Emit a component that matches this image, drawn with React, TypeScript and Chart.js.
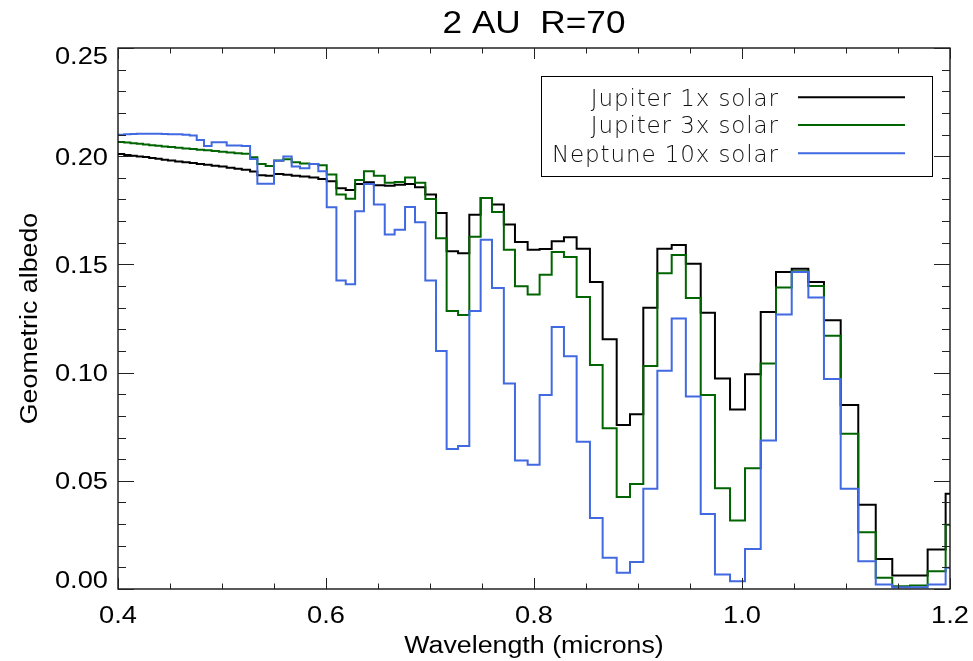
import React, { useEffect, useRef } from "react";
import { Chart, registerables } from "chart.js";

Chart.register(...registerables);

const chartTitle = "2 AU  R=70";
const xTitle = "Wavelength (microns)";
const yTitle = "Geometric albedo";
const seriesNames = ["Jupiter 1x solar", "Jupiter 3x solar", "Neptune 10x solar"];
const seriesColors = ["#000000", "#006400", "#4169E1"];

// left edges of the R=70 wavelength bins (microns), last entry closes the final bin
const binEdges = [
  0.4, 0.406, 0.412, 0.418, 0.424, 0.43, 0.436, 0.442, 0.448, 0.455,
  0.462, 0.469, 0.4757, 0.4827, 0.49, 0.497, 0.5045, 0.512, 0.519, 0.527,
  0.534, 0.542, 0.55, 0.559, 0.567, 0.575, 0.584, 0.5926, 0.6007, 0.61,
  0.619, 0.628, 0.6365, 0.646, 0.6565, 0.666, 0.676, 0.6856, 0.6955, 0.7058,
  0.716, 0.727, 0.7378, 0.7487, 0.7596, 0.771, 0.7817, 0.7939, 0.8054, 0.817,
  0.8288, 0.841, 0.8538, 0.866, 0.8795, 0.8923, 0.9051, 0.9186, 0.9324, 0.946,
  0.9603, 0.974, 0.9885, 1.0029, 1.018, 1.0327, 1.0478, 1.0638, 1.0788, 1.0949,
  1.1118, 1.1286, 1.1445, 1.1615, 1.1785, 1.1958, 1.2,
];

const jupiter1x = [
  0.201, 0.2006, 0.2002, 0.1999, 0.1996, 0.1992, 0.1988, 0.1984, 0.198, 0.1976,
  0.1972, 0.1968, 0.1964, 0.196, 0.1956, 0.1952, 0.1947, 0.1942, 0.1937, 0.1929,
  0.1912, 0.191, 0.1918, 0.1914, 0.191, 0.1906, 0.1902, 0.1895, 0.1884, 0.1852,
  0.1844, 0.1872, 0.188, 0.1866, 0.1864, 0.1868, 0.1872, 0.1856, 0.1823, 0.1737,
  0.1561, 0.1552, 0.173, 0.1807, 0.1777, 0.1684, 0.1603, 0.1568, 0.1571, 0.1607,
  0.1626, 0.1572, 0.1419, 0.1154, 0.0758, 0.0807, 0.13, 0.1572, 0.159, 0.1503,
  0.1277, 0.0973, 0.083, 0.0992, 0.128, 0.1465, 0.148, 0.1419, 0.1242, 0.085,
  0.0389, 0.0139, 0.0062, 0.0062, 0.0182, 0.044,
];

const jupiter3x = [
  0.2066, 0.2063, 0.206, 0.2057, 0.2054, 0.2051, 0.2048, 0.2045, 0.2042, 0.2039,
  0.2036, 0.2033, 0.203, 0.2027, 0.2024, 0.2021, 0.2017, 0.2014, 0.2011, 0.1995,
  0.1964, 0.1955, 0.198, 0.1986, 0.1972, 0.1966, 0.1964, 0.1958, 0.1916, 0.1823,
  0.1803, 0.189, 0.193, 0.191, 0.1877, 0.1881, 0.1902, 0.1877, 0.1802, 0.1621,
  0.1285, 0.1266, 0.1628, 0.1807, 0.1742, 0.1568, 0.1399, 0.1361, 0.1452, 0.1557,
  0.1534, 0.1349, 0.1035, 0.0743, 0.0425, 0.0485, 0.1031, 0.1459, 0.1544, 0.1345,
  0.0896, 0.0466, 0.0317, 0.0558, 0.1042, 0.1393, 0.1468, 0.14, 0.117, 0.0717,
  0.0262, 0.0052, 0.0013, 0.0016, 0.0082, 0.0297,
];

const neptune10x = [
  0.2099, 0.2101, 0.2103, 0.2104, 0.2104, 0.2104, 0.2104, 0.2103, 0.2102, 0.2101,
  0.2099, 0.2096, 0.2075, 0.2047, 0.2064, 0.2064, 0.205, 0.2049, 0.2047, 0.1987,
  0.1873, 0.1873, 0.1979, 0.1999, 0.1952, 0.1944, 0.1964, 0.193, 0.1764, 0.1426,
  0.1408, 0.1746, 0.1872, 0.1777, 0.1638, 0.166, 0.1765, 0.1695, 0.1426, 0.11,
  0.0647, 0.0661, 0.1285, 0.1614, 0.1391, 0.095, 0.0594, 0.0574, 0.0896, 0.1211,
  0.1076, 0.0681, 0.0328, 0.0144, 0.0075, 0.0125, 0.0463, 0.1008, 0.125, 0.0889,
  0.0347, 0.0067, 0.0036, 0.0185, 0.0686, 0.1268, 0.1465, 0.1347, 0.097, 0.0463,
  0.0128, 0.0021, 0.0008, 0.0008, 0.0021, 0.0098,
];

const xMajorTicks = [0.4, 0.6, 0.8, 1.0, 1.2];
const xTickLabels = ["0.4", "0.6", "0.8", "1.0", "1.2"];
const xMinorTicks = [0.45, 0.5, 0.55, 0.65, 0.7, 0.75, 0.85, 0.9, 0.95, 1.05, 1.1, 1.15];
const yMajorTicks = [0, 0.05, 0.1, 0.15, 0.2, 0.25];
const yTickLabels = ["0.00", "0.05", "0.10", "0.15", "0.20", "0.25"];
const yMinorTicks = [
  0.01, 0.02, 0.03, 0.04, 0.06, 0.07, 0.08, 0.09, 0.11, 0.12,
  0.13, 0.14, 0.16, 0.17, 0.18, 0.19, 0.21, 0.22, 0.23, 0.24,
];

function toSteps(values: number[]) {
  const pts = values.map((v, i) => ({ x: binEdges[i], y: v }));
  pts.push({ x: binEdges[values.length], y: values[values.length - 1] });
  return pts;
}

const SANS = "'Liberation Sans', Arial, Helvetica, sans-serif";

function drawText(
  ctx: CanvasRenderingContext2D,
  s: string,
  x: number,
  y: number,
  align: CanvasTextAlign,
  font: string,
  sx: number
) {
  ctx.save();
  ctx.font = font;
  ctx.fillStyle = "#000";
  ctx.textAlign = align;
  ctx.textBaseline = "alphabetic";
  ctx.translate(x, y);
  ctx.scale(sx, 1);
  ctx.fillText(s, 0, 0);
  ctx.restore();
}

const decorPlugin = {
  id: "idlDecor",
  afterDraw(chart: any) {
    const ctx: CanvasRenderingContext2D = chart.ctx;
    const { left, right, top, bottom } = chart.chartArea;
    const xs = chart.scales.x;
    const ys = chart.scales.y;

    ctx.save();
    // frame
    ctx.strokeStyle = "#000";
    ctx.lineWidth = 1.3;
    ctx.strokeRect(left, top, right - left, bottom - top);

    // ticks (inward, on all four sides)
    ctx.lineWidth = 1;
    ctx.strokeStyle = "#222";
    const xMajLen = 11, xMinLen = 5.5, yMajLen = 16, yMinLen = 8;
    ctx.beginPath();
    xMajorTicks.forEach((v) => {
      const px = Math.round(xs.getPixelForValue(v)) + 0.5;
      ctx.moveTo(px, bottom); ctx.lineTo(px, bottom - xMajLen);
      ctx.moveTo(px, top); ctx.lineTo(px, top + xMajLen);
    });
    xMinorTicks.forEach((v) => {
      const px = Math.round(xs.getPixelForValue(v)) + 0.5;
      ctx.moveTo(px, bottom); ctx.lineTo(px, bottom - xMinLen);
      ctx.moveTo(px, top); ctx.lineTo(px, top + xMinLen);
    });
    yMajorTicks.forEach((v) => {
      const py = Math.round(ys.getPixelForValue(v)) + 0.5;
      ctx.moveTo(left, py); ctx.lineTo(left + yMajLen, py);
      ctx.moveTo(right, py); ctx.lineTo(right - yMajLen, py);
    });
    yMinorTicks.forEach((v) => {
      const py = Math.round(ys.getPixelForValue(v)) + 0.5;
      ctx.moveTo(left, py); ctx.lineTo(left + yMinLen, py);
      ctx.moveTo(right, py); ctx.lineTo(right - yMinLen, py);
    });
    ctx.stroke();

    // tick labels
    const tickFont = `23.5px ${SANS}`;
    xMajorTicks.forEach((v, i) => {
      drawText(ctx, xTickLabels[i], xs.getPixelForValue(v), 623, "center", tickFont, 1.16);
    });
    yMajorTicks.forEach((v, i) => {
      let cy = ys.getPixelForValue(v);
      if (i === 0) cy -= 9;
      if (i === yMajorTicks.length - 1) cy += 8;
      drawText(ctx, yTickLabels[i], left - 10, cy + 8.4, "right", tickFont, 1.16);
    });

    // axis titles
    drawText(ctx, xTitle, (left + right) / 2, 653, "center", `23.5px ${SANS}`, 1.14);
    ctx.save();
    ctx.translate(37, (top + bottom) / 2);
    ctx.rotate(-Math.PI / 2);
    drawText(ctx, yTitle, 0, 0, "center", `23.5px ${SANS}`, 1.14);
    ctx.restore();

    // chart title
    drawText(ctx, chartTitle, (left + right) / 2, 33, "center", `32px ${SANS}`, 1.1);

    // legend box
    const bx = 541, by = 76, bw = 391, bh = 100;
    ctx.fillStyle = "#fff";
    ctx.fillRect(bx, by, bw, bh);
    ctx.strokeStyle = "#000";
    ctx.lineWidth = 1;
    ctx.strokeRect(bx + 0.5, by + 0.5, bw, bh);

    const legFont = `200 23px 'DejaVu Sans', sans-serif`;
    ctx.font = legFont;
    (ctx as any).letterSpacing = "0px";
    const w0 = ctx.measureText(seriesNames[2]).width;
    const ls = (227 - w0) / seriesNames[2].length;
    const rowLine = [97.3, 125, 153.3];
    seriesNames.forEach((name, i) => {
      ctx.save();
      ctx.font = legFont;
      (ctx as any).letterSpacing = `${ls}px`;
      ctx.fillStyle = "#111";
      ctx.textAlign = "right";
      ctx.textBaseline = "alphabetic";
      ctx.fillText(name, 778 + ls, rowLine[i] + 8.2);
      ctx.restore();
      ctx.strokeStyle = seriesColors[i];
      ctx.lineWidth = 2;
      ctx.beginPath();
      ctx.moveTo(798, rowLine[i]);
      ctx.lineTo(905, rowLine[i]);
      ctx.stroke();
    });
    ctx.restore();
  },
};

export default function App() {
  const canvasRef = useRef<HTMLCanvasElement | null>(null);

  useEffect(() => {
    if (!canvasRef.current) return;
    const seriesData = [jupiter1x, jupiter3x, neptune10x];
    const chart = new Chart(canvasRef.current, {
      type: "line",
      data: {
        datasets: seriesData.map((vals, i) => ({
          label: seriesNames[i],
          data: toSteps(vals),
          borderColor: seriesColors[i],
          backgroundColor: seriesColors[i],
          borderWidth: 2,
          stepped: "before" as const,
          pointRadius: 0,
          fill: false,
          order: 2 - i,
        })),
      },
      options: {
        animation: false,
        responsive: false,
        maintainAspectRatio: false,
        layout: { padding: { left: 118, right: 23, top: 48, bottom: 72 } },
        plugins: {
          legend: { display: false },
          title: { display: false },
          tooltip: { enabled: false },
        },
        scales: {
          x: { type: "linear", min: 0.4, max: 1.2, display: false },
          y: { type: "linear", min: 0, max: 0.25, display: false },
        },
      },
      plugins: [decorPlugin],
    });
    return () => chart.destroy();
  }, []);

  return (
    <div style={{ position: "fixed", left: 0, top: 0, width: 973, height: 661, background: "#fff" }}>
      <canvas ref={canvasRef} width={973} height={661} style={{ width: 973, height: 661, display: "block" }} />
    </div>
  );
}
